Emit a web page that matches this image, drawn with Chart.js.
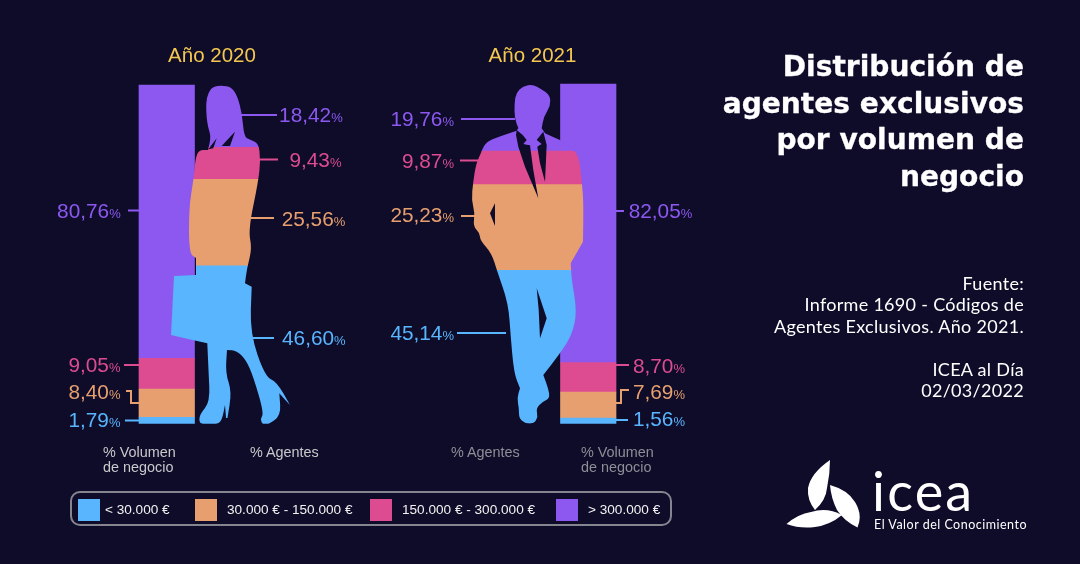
<!DOCTYPE html>
<html lang="es">
<head>
<meta charset="UTF-8">
<title>Distribución de agentes exclusivos por volumen de negocio</title>
<script src="https://cdn.jsdelivr.net/npm/chart.js"></script>
<style>
    html, body { margin: 0; padding: 0; }
    body { width: 1080px; height: 564px; background: #0e0c29; position: relative; overflow: hidden; font-family: "Liberation Sans", Arial, sans-serif; color: #fff; }
    canvas { position: absolute; left: 0; top: 0; }
    .t { position: absolute; white-space: nowrap; }
    .year { font-size: 20.5px; color: #f4c850; top: 43px; width: 120px; text-align: center; }
    .cat { font-size: 14.4px; line-height: 14.5px; top: 445px; }
    .val { font-size: 20.8px; line-height: 24px; }
    .val small { font-size: 13px; }
    #heading { right: 56px; top: 49px; text-align: right; font: 700 28.1px/36.5px "DejaVu Sans", sans-serif; -webkit-text-stroke: 0.3px #fff; }
    #source { right: 56px; top: 273px; text-align: right; font: 400 18px/21.4px Lato, sans-serif; letter-spacing: 0.3px; }
    #box { position: absolute; left: 70px; top: 491px; width: 598px; height: 31px; border: 2px solid #85858f; border-radius: 10px; }
    .sw { position: absolute; top: 499px; width: 22px; height: 22px; }
    .leg { font-size: 13.6px; top: 502px; color: #f2f2f2; }
    #logo { position: absolute; left: 0; top: 0; }
    #icea { left: 872px; top: 461px; font: 400 54px/60px Lato, sans-serif; letter-spacing: 2.2px; }
    #lema { left: 874px; top: 517px; font: 400 12.5px/15px Lato, sans-serif; letter-spacing: 0.5px; }
</style>
</head>
<body>
<canvas id="chart2020" width="1080" height="564"></canvas>
<canvas id="chart2021" width="1080" height="564"></canvas>
<div id="box"></div>
<svg id="logo" width="1080" height="564" fill="#fff">
    <path d="M830 460 Q811 473 808 488 Q807 500 815 510 Q826 500 827 488 Q830 474 830 460Z"/>
    <path d="M830 485 Q848 490 855 502 Q863 515 857.5 527.5 Q844 521 837 510 Q831 498 830 485Z"/>
    <path d="M786.5 524 Q798 514 811 512 Q827 507 842 515 Q830 525 815 527 Q800 529 786.5 524Z"/>
</svg>
<div class="t" id="heading">Distribución de<br>agentes exclusivos<br>por volumen de<br>negocio</div>
<div class="t" id="source">Fuente:<br>Informe 1690 - Códigos de<br>Agentes Exclusivos. Año 2021.<br><br>ICEA al Día<br>02/03/2022</div>
<div class="t" id="icea">icea</div>
<div class="t" id="lema">El Valor del Conocimiento</div>

<script>
// datos, de abajo arriba en cada barra
const bands = ["< 30.000 €", "30.000 € - 150.000 €", "150.000 € - 300.000 €", "> 300.000 €"];
const bandColors = ["#58b5fe", "#e79f6f", "#dd4b91", "#8c58f0"];
const catVolumen = ["% Volumen", "de negocio"];
const catAgentes = ["% Agentes"];
const volumen2020 = [1.79, 8.40, 9.05, 80.76];
const agentes2020 = [46.60, 25.56, 9.43, 18.42];
const agentes2021 = [45.14, 25.23, 9.87, 19.76];
const volumen2021 = [1.56, 7.69, 8.70, 82.05];

// siluetas en pixeles de pagina, recortan las barras de agentes (tercer valor = esquina viva)
const womanOutline = [[222,85.5],[213,86.5],[208,93],[206,103],[206.5,117],[208,127],[211,137],[208,150,1],[199,150],[195.5,158],[193.5,180],[189,207],[189,253],[196,258,1],[196,275,1],[174,276,1],[171,335,1],[207.3,343.3,1],[208.5,370],[210,402],[200,414],[199,422],[203,424.5],[217,424.5],[222,420],[225,405,1],[226,418,1],[227.5,418,1],[231.7,391.7],[225.5,373],[227,350,1],[236.7,350.7],[246,360],[253.3,376.7],[264,413.3],[260,419],[263,425],[267,425],[281,416],[279.3,393.3,1],[290,405,1],[276.7,381.7],[265,376.7],[250,333],[251.7,286.7,1],[245,283.3,1],[247,268],[252,248.3],[248.3,230],[258.3,181.7],[260.5,160],[258.5,143],[250,140],[244,136.7],[242,113],[237,95],[231,87]];
const womanHoles = [
    [[216.7,138.3,1],[213.3,148.3,1],[208.3,149.3,1]],
    [[235,131.7,1],[230,146,1],[221.7,146,1]]
];
const manOutline = [[533,84.5],[523,86],[516,93],[514.5,103],[514.5,118],[518.3,128,1],[516.7,130.7,1],[490,140],[484,145],[481,153],[476,164],[473,183],[471.5,200],[475,213.3],[473,226],[480,233.3],[480,240],[491.7,253.3],[497.3,271.7],[508.3,303.3],[510.7,336.7],[514,373.3],[520,388.3,1],[517,398],[519,408.3],[519,418],[525,423.5],[534,423.5],[538,417],[536,408.3],[542.7,401.7],[549.8,398.3],[548.3,388.3],[543.3,375,1],[560,353.3],[572,335],[577,311.7],[571.7,280],[570.7,263.3,1],[583,241.7,1],[583.5,203.3],[582,183.3],[579.5,160],[575,150.5],[560,140,1],[545,133.3,1],[541.7,128.3,1],[543.8,116.7],[550.5,106],[550,95],[541,89]];
const manHoles = [
    [[536.7,288.3,1],[546.7,318.3,1],[540,338.3,1],[538.7,310,1]],
    [[495,203.3,1],[490,213.3,1],[495,226,1]],
    [[516.7,130,1],[522.7,135,1],[526.7,140,1],[523.3,144,1],[530,145.3,1],[533.3,170,1],[538.3,198.3,1],[525,166.7,1],[518.3,146.7,1],[516,135,1]],
    [[543.3,131.7,1],[546.7,145,1],[546,160,1],[545,181.7,1],[540,163.3,1],[537.3,146.7,1],[541.7,144,1],[536.7,140,1]]
];

function makePath(outline, holes) {
    const path = new Path2D();
    [outline, ...holes].forEach(pts => {
        const mid = i => {
            const a = pts[i % pts.length], b = pts[(i + 1) % pts.length];
            return [(a[0] + b[0]) / 2, (a[1] + b[1]) / 2];
        };
        const start = mid(pts.length - 1);
        path.moveTo(start[0], start[1]);
        pts.forEach((p, i) => {
            const m = mid(i);
            if (p[2]) path.lineTo(p[0], p[1]), path.lineTo(m[0], m[1]);
            else path.quadraticCurveTo(p[0], p[1], m[0], m[1]);
        });
        path.closePath();
    });
    return path;
}

// etiquetas de valor y sus lineas guia, mismo orden que las bandas
const layout2020 = {
    volumen: {
        right: [120.5, 120.5, 120.5, 120.7],
        y: [420, 392, 365, 210.5],
        lines: [[[125,420.5],[139,420.5]], [[126,391],[131,391],[131,403],[139,403]], [[124,365],[139,365]], [[128,210.5],[139,210.5]]]
    },
    agentes: {
        right: [345.6, 345.3, 341.5, 342.7],
        y: [338, 219, 159.5, 115],
        lines: [[[252,338],[274,338]], [[250,218],[274,218]], [[259,159.5],[278,159.5]], [[241,115],[277,115]]]
    }
};
const layout2021 = {
    agentes: {
        right: [454, 454, 454, 454],
        y: [332.7, 215, 160.7, 119],
        lines: [[[457,333],[506,333]], [[461,216],[476,216]], [[460,160.5],[478,160.5]], [[461,119],[515,119]]]
    },
    volumen: {
        right: [685, 685, 685, 692.3],
        y: [419.3, 391.7, 365.7, 211],
        lines: [[[616,420],[628,420]], [[616,403],[621,403],[621,390],[629,390]], [[616,365],[629,365]], [[616,211],[624,211]]]
    }
};

const agentClip = {
    id: "agentClip",
    beforeDatasetDraw(chart, args, opts) {
        if (chart.data.datasets[args.index].stack !== "agentes") return;
        chart.ctx.save();
        chart.ctx.clip(opts.path, "evenodd");
    },
    afterDatasetDraw(chart, args) {
        if (chart.data.datasets[args.index].stack === "agentes") chart.ctx.restore();
    }
};

const leaderLines = {
    id: "leaderLines",
    afterDraw(chart, args, opts) {
        const ctx = chart.ctx;
        ctx.save();
        ctx.lineWidth = 2;
        opts.groups.forEach(g => g.lines.forEach((line, i) => {
            ctx.strokeStyle = bandColors[i];
            ctx.beginPath();
            line.forEach((p, j) => j ? ctx.lineTo(p[0], p[1]) : ctx.moveTo(p[0], p[1]));
            ctx.stroke();
        }));
        ctx.restore();
    }
};

function makeChart(id, labels, values, cfg) {
    const datasets = [];
    // agentes primero: Chart.js pinta el primer dataset encima
    bands.forEach((b, i) => datasets.push({
        label: b, stack: "agentes", backgroundColor: bandColors[i], barThickness: 125, clip: false,
        data: labels.map(l => l === "agentes" ? values.agentes[i] : null)
    }));
    bands.forEach((b, i) => datasets.push({
        label: b, stack: "volumen", backgroundColor: bandColors[i], barThickness: 55.5, clip: false,
        data: labels.map(l => l === "volumen" ? values.volumen[i] : null)
    }));
    return new Chart(document.getElementById(id), {
        type: "bar",
        data: { labels, datasets },
        options: {
            responsive: false,
            animation: false,
            grouped: false,
            layout: { padding: cfg.padding },
            scales: {
                x: { display: false, stacked: true },
                y: { display: false, stacked: true, min: 0, max: 100 }
            },
            plugins: {
                legend: { display: false },
                tooltip: { enabled: false },
                agentClip: { path: cfg.path },
                leaderLines: { groups: cfg.groups }
            }
        },
        plugins: [agentClip, leaderLines]
    });
}

makeChart("chart2020", ["volumen", "agentes"], { volumen: volumen2020, agentes: agentes2020 }, {
    padding: { left: 134, right: 1080 - 265, top: 85, bottom: 564 - 423.5 },
    path: makePath(womanOutline, womanHoles),
    groups: [layout2020.volumen, layout2020.agentes]
});
makeChart("chart2021", ["agentes", "volumen"], { volumen: volumen2021, agentes: agentes2021 }, {
    padding: { left: 497.5, right: 1080 - 618.5, top: 84, bottom: 564 - 423.5 },
    path: makePath(manOutline, manHoles),
    groups: [layout2021.volumen, layout2021.agentes]
});

// textos en HTML
function addText(cls, html, css) {
    const el = document.createElement("div");
    el.className = "t " + cls;
    el.innerHTML = html;
    Object.assign(el.style, css);
    document.body.appendChild(el);
}
function addValues(values, g) {
    values.forEach((v, i) => {
        addText("val", v.toFixed(2).replace(".", ",") + "<small>%</small>", {
            color: bandColors[i], top: (g.y[i] - 12) + "px", right: (1080 - g.right[i]) + "px"
        });
    });
}
addValues(volumen2020, layout2020.volumen);
addValues(agentes2020, layout2020.agentes);
addValues(agentes2021, layout2021.agentes);
addValues(volumen2021, layout2021.volumen);

addText("year", "Año 2020", { left: "152px" });
addText("year", "Año 2021", { left: "472.5px" });
addText("cat", catVolumen.join("<br>"), { left: "103px", color: "#c9c9cc" });
addText("cat", catAgentes.join("<br>"), { left: "250px", color: "#c9c9cc" });
addText("cat", catAgentes.join("<br>"), { left: "451px", color: "#8e8e96" });
addText("cat", catVolumen.join("<br>"), { left: "581px", color: "#8e8e96" });

const swatchX = [78, 195, 370, 556];
const legendX = [105, 227, 402, 588];
bands.forEach((b, i) => {
    const sw = document.createElement("div");
    sw.className = "sw";
    sw.style.left = swatchX[i] + "px";
    sw.style.background = bandColors[i];
    document.body.appendChild(sw);
    addText("leg", b.replace("<", "&lt;").replace(">", "&gt;"), { left: legendX[i] + "px" });
});
</script>
</body>
</html>
